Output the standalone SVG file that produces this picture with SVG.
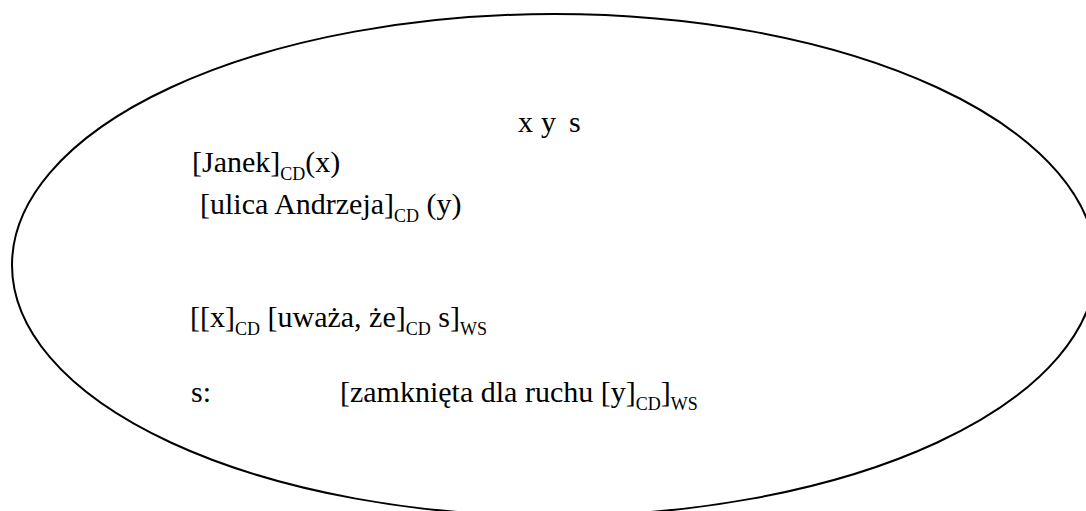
<svg xmlns="http://www.w3.org/2000/svg" width="1086" height="511" viewBox="0 0 1086 511">
<style>
text{font-family:'Liberation Serif','Times New Roman',Times,serif;font-size:30px;fill:#000}
.s{font-size:18px}
</style>
<rect width="1086" height="511" fill="#fff"/>
<g id="ellipse"><ellipse cx="554" cy="265" rx="542" ry="251" fill="none" stroke="#000" stroke-width="2"/></g>
<g id="vars"><text x="518" y="132">x<tspan x="541">y</tspan><tspan x="569">s</tspan></text></g>
<g id="janek"><text x="192" y="172">[Janek]<tspan class="s" dy="8">CD</tspan><tspan dy="-8">(x)</tspan></text></g>
<g id="ulica"><text x="200" y="214">[ulica Andrzeja]<tspan class="s" dy="8">CD</tspan><tspan dy="-8"> (y)</tspan></text></g>
<g id="uwaza"><text x="190" y="327">[[x]<tspan class="s" dy="8">CD</tspan><tspan dy="-8"> [uważa, że]</tspan><tspan class="s" dy="8">CD</tspan><tspan dy="-8"> s]</tspan><tspan class="s" dy="8">WS</tspan></text></g>
<g id="s-def"><text x="191" y="402">s:</text><text x="340" y="402">[zamknięta dla ruchu [y]<tspan class="s" dy="8">CD</tspan><tspan dy="-8">]</tspan><tspan class="s" dy="8">WS</tspan></text></g>
<g id="connectors"/>
</svg>
